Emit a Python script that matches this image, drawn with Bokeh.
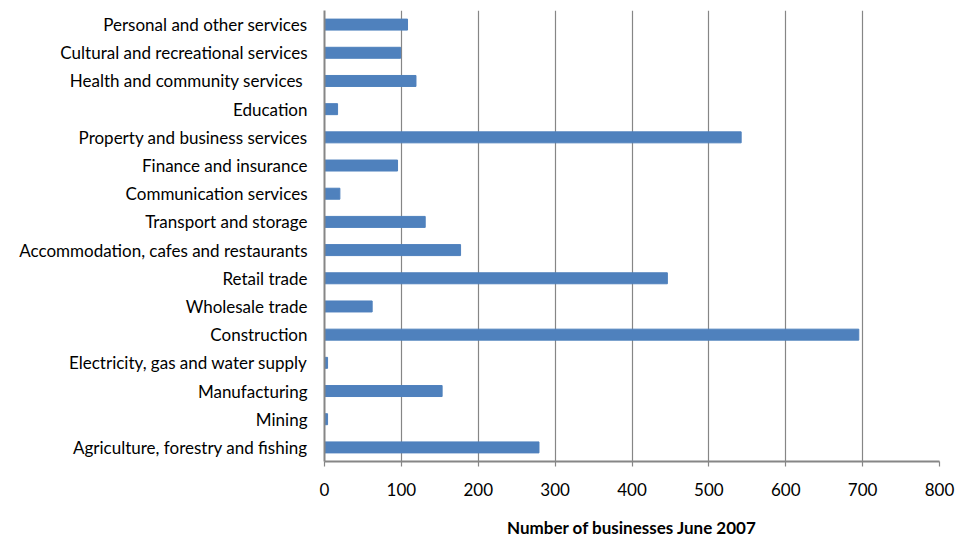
from bokeh.plotting import figure
from bokeh.models import FactorRange, Range1d, FixedTicker
from bokeh.embed import file_html
from bokeh.resources import INLINE

industries = [
    "Agriculture, forestry and fishing",
    "Mining",
    "Manufacturing",
    "Electricity, gas and water supply",
    "Construction",
    "Wholesale trade",
    "Retail trade",
    "Accommodation, cafes and restaurants",
    "Transport and storage",
    "Communication services",
    "Finance and insurance",
    "Property and business services",
    "Education",
    "Health and community  services",
    "Cultural and recreational services",
    "Personal and other services",
]
businesses = [279, 4, 153, 4, 695, 62, 446, 177, 131, 20, 95, 542, 17, 119, 99, 108]
x_ticks = [0, 100, 200, 300, 400, 500, 600, 700, 800]

FONT = "Lato"

p = figure(
    width=962, height=543,
    y_range=FactorRange(factors=industries),
    x_range=Range1d(0, 800),
    output_backend="svg", toolbar_location=None,
    min_border_left=324, min_border_right=23, min_border_top=10, min_border_bottom=82,
)
p.hbar(y=industries, right=businesses, left=0, height=0.39,
       fill_color="#4F81BD", line_color="#4F81BD", line_width=1)

p.outline_line_color = None
p.ygrid.grid_line_color = None
p.xgrid.grid_line_color = "#868686"
p.xgrid.grid_line_width = 1.2
p.xgrid.ticker = FixedTicker(ticks=x_ticks)

p.xaxis.ticker = FixedTicker(ticks=x_ticks)
p.xaxis.axis_line_color = "#868686"
p.xaxis.axis_line_width = 2
p.xaxis.major_tick_line_color = "#868686"
p.xaxis.major_tick_line_width = 1.2
p.xaxis.major_tick_out = 5
p.xaxis.major_tick_in = 0
p.xaxis.minor_tick_line_color = None
p.xaxis.major_label_text_font = FONT
p.xaxis.major_label_text_font_size = "17px"
p.xaxis.major_label_text_color = "#000000"
p.xaxis.major_label_standoff = 16
p.xaxis.axis_label = "Number of businesses June 2007"
p.xaxis.axis_label_text_font = FONT
p.xaxis.axis_label_text_font_size = "17px"
p.xaxis.axis_label_text_font_style = "bold"
p.xaxis.axis_label_text_color = "#000000"
p.xaxis.axis_label_standoff = 18

p.yaxis.axis_line_color = "#868686"
p.yaxis.axis_line_width = 2
p.yaxis.major_tick_line_color = None
p.yaxis.major_tick_out = 0
p.yaxis.major_tick_in = 0
p.yaxis.major_label_text_font = FONT
p.yaxis.major_label_text_font_size = "17px"
p.yaxis.major_label_text_color = "#000000"
p.yaxis.major_label_standoff = 17

open("out.html", "w").write(file_html(p, INLINE))
